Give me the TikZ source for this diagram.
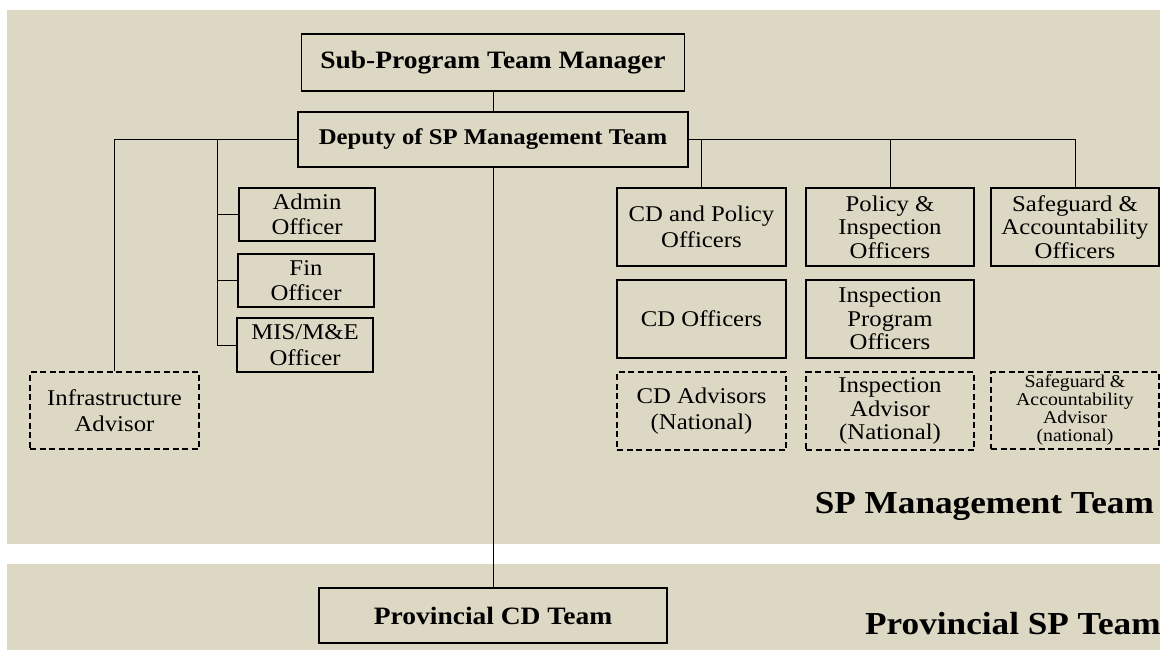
\documentclass[tikz,border=0pt]{standalone}
\usepackage{fontspec}
\setmainfont{Liberation Serif}[FakeStretch=1.1]
\definecolor{bandbg}{RGB}{220,216,195}
\begin{document}
\begin{tikzpicture}[x=1pt,y=-1pt,
box/.style={draw,line width=1.2pt,inner sep=0pt,align=center,font=\fontsize{22.5}{25.5}\selectfont},
three/.style={font=\fontsize{22.5}{23.5}\selectfont},
adv/.style={box,dash pattern=on 6pt off 3.5pt},
head/.style={box,font=\bfseries\fontsize{25}{28}\selectfont},
team/.style={inner sep=0pt,font=\bfseries\fontsize{32}{36}\selectfont},
link/.style={line width=1pt}]
\useasboundingbox(0,0)rectangle(1160,650);
\fill[bandbg](7,10)rectangle(1160,544);
\fill[bandbg](7,564)rectangle(1160,650);
\node[head,minimum width=383pt,minimum height=57pt](mgr)at(493,62.5){Sub-Program Team Manager};
\node[head,font=\bfseries\fontsize{22.5}{26}\selectfont,minimum width=390pt,minimum height=55pt](dep)at(493,139.5){Deputy of SP Management Team};
\node[box,minimum width=136pt,minimum height=53pt](admin)at(307,214.5){Admin\\Officer};
\node[box,minimum width=136pt,minimum height=53pt](fin)at(306,280.5){Fin\\Officer};
\node[box,minimum width=136pt,minimum height=54pt](mis)at(305,345){MIS/M\&E\\Officer};
\node[adv,minimum width=169pt,minimum height=77pt](infra)at(114.5,410.5){Infrastructure\\Advisor};
\node[box,minimum width=169pt,minimum height=78pt](cdpol)at(701.5,227){CD and Policy\\Officers};
\node[box,three,minimum width=168pt,minimum height=78pt](polinsp)at(890,227){Policy \&\\Inspection\\Officers};
\node[box,three,minimum width=168pt,minimum height=78pt](safe)at(1075,227){Safeguard \&\\Accountability\\Officers};
\node[box,minimum width=169pt,minimum height=78pt](cdoff)at(701.5,319){CD Officers};
\node[box,three,minimum width=168pt,minimum height=78pt](insprog)at(890,319){Inspection\\Program\\Officers};
\node[adv,minimum width=169pt,minimum height=78pt](cdadv)at(701.5,411){CD Advisors\\(National)};
\node[adv,three,minimum width=168pt,minimum height=78pt](inspadv)at(890,411){Inspection\\Advisor\\(National)};
\node[adv,font=\fontsize{18}{18}\selectfont,minimum width=168pt,minimum height=77pt](safeadv)at(1075,410.5){Safeguard \&\\Accountability\\Advisor\\(national)};
\node[head,minimum width=348pt,minimum height=55pt](prov)at(493,615.5){Provincial CD Team};
\node[team,anchor=base east](mgmt)at(1154,513){SP Management Team};
\node[team,anchor=base west](provteam)at(865,634){Provincial SP Team};
\coordinate(lbus)at(217,139.5);
\draw[link](mgr.south)--(dep.north);
\draw[link](dep.west)-|(infra.north);
\draw[link](lbus)|-(mis.west);
\draw[link](lbus|-admin.west)--(admin.west);
\draw[link](lbus|-fin.west)--(fin.west);
\draw[link](dep.east)-|(safe.north);
\draw[link](cdpol.north)--(cdpol.north|-dep.east);
\draw[link](polinsp.north)--(polinsp.north|-dep.east);
\draw[link](dep.south)--(prov.north);
\end{tikzpicture}
\end{document}
